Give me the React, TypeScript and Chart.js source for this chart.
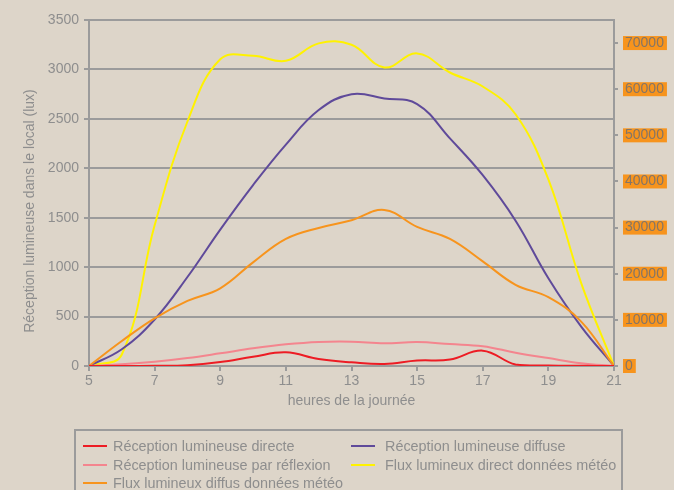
import React, { useEffect, useRef } from 'react';
import { Chart, registerables } from 'chart.js';

Chart.register(...registerables);

// ---- data ----
const hours = [5, 6, 7, 8, 9, 10, 11, 12, 13, 14, 15, 16, 17, 18, 19, 20, 21];
const directe = [0, 0, 2, 8, 40, 94, 138, 70, 37, 20, 55, 65, 155, 15, 5, 2, 0];
const reflexion = [0, 17, 43, 80, 128, 179, 219, 243, 246, 229, 243, 222, 200, 135, 80, 28, 0];
const diffusMeteo = [0, 5420, 10340, 14100, 16840, 22460, 27540, 29930, 31590, 33840, 30150, 27540, 22680, 17600, 14930, 9630, 0];
const diffuse = [0, 169, 470, 900, 1380, 1830, 2240, 2589, 2750, 2707, 2650, 2302, 1930, 1470, 887, 398, 0];
const directMeteo = [0, 2500, 30500, 53000, 66500, 67240, 66150, 69930, 69630, 64710, 67760, 63620, 60580, 54570, 40430, 17980, 0];

const seriesLabels = [
  'Réception lumineuse directe',
  'Réception lumineuse par réflexion',
  'Flux lumineux diffus données météo',
  'Réception lumineuse diffuse',
  'Flux lumineux direct données météo',
];
const seriesColors = ['#ed1c24', '#f4858e', '#f7941d', '#5f4a9a', '#fff200'];
const seriesAxis = ['y', 'y', 'y1', 'y', 'y1'];
const seriesValues = [directe, reflexion, diffusMeteo, diffuse, directMeteo];

const xTitle = 'heures de la journée';
const yTitle = 'Réception lumineuse dans le local (lux)';
const xTicks = [5, 7, 9, 11, 13, 15, 17, 19, 21];
const yTicks = [0, 500, 1000, 1500, 2000, 2500, 3000, 3500];
const y1Ticks = [0, 10000, 20000, 30000, 40000, 50000, 60000, 70000];
const xMin = 5, xMax = 21;
const yMin = 0, yMax = 3500;
const y1Min = 0, y1Max = 75000;

// ---- styles ----
const FONT = "'Liberation Sans', Arial, Helvetica, sans-serif";
const GRAY = '#8e8e8e';
const GRID = '#9b9b9b';
const BG = '#ddd5c9';
const FS = 14;

const yTitlePlugin = {
  id: 'yTitleCustom',
  afterDraw(chart: any) {
    const ctx = chart.ctx;
    const area = chart.chartArea;
    ctx.save();
    ctx.translate(30, (area.top + area.bottom) / 2 + 18);
    ctx.rotate(-Math.PI / 2);
    ctx.font = `${FS}px ${FONT}`;
    ctx.fillStyle = GRAY;
    ctx.textAlign = 'center';
    ctx.textBaseline = 'middle';
    ctx.fillText(yTitle, 0, 0);
    ctx.restore();
  },
};

const setTicks = (vals: number[]) => (s: any) => {
  s.ticks = vals.map((v) => ({ value: v }));
};
const plain = (v: any) => String(v);

export default function App() {
  const ref = useRef<HTMLCanvasElement | null>(null);

  useEffect(() => {
    document.body.style.margin = '0';
    document.body.style.background = BG;
    const canvas = ref.current;
    if (!canvas) return;
    const chart = new Chart(canvas, {
      type: 'line',
      data: {
        datasets: seriesValues.map((vals, i) => ({
          label: seriesLabels[i],
          data: hours.map((h, j) => ({ x: h, y: vals[j] })),
          borderColor: seriesColors[i],
          backgroundColor: seriesColors[i],
          borderWidth: 2,
          pointRadius: 0,
          tension: 0.4,
          fill: false,
          yAxisID: seriesAxis[i],
        })),
      },
      options: {
        animation: false,
        responsive: false,
        maintainAspectRatio: false,
        layout: { padding: { top: 20, bottom: 70, left: 0, right: 0 } },
        plugins: { legend: { display: false }, tooltip: { enabled: false }, title: { display: false } },
        scales: {
          x: {
            type: 'linear',
            min: xMin,
            max: xMax,
            afterBuildTicks: setTicks(xTicks),
            afterFit: (s: any) => { s.height = 54; },
            ticks: { callback: plain, color: GRAY, font: { family: FONT, size: FS }, padding: 2 },
            grid: { drawOnChartArea: false, drawTicks: true, tickLength: 5, color: GRID, lineWidth: 2 },
            border: { display: true, color: GRID, width: 2 },
            title: {
              display: true,
              text: xTitle,
              color: GRAY,
              font: { family: FONT, size: FS },
              padding: { top: 10, bottom: 10 },
            },
          },
          y: {
            type: 'linear',
            position: 'left',
            min: yMin,
            max: yMax,
            afterBuildTicks: setTicks(yTicks),
            afterFit: (s: any) => { s.width = 89; },
            ticks: { callback: plain, color: GRAY, font: { family: FONT, size: FS }, padding: 5 },
            grid: { color: GRID, lineWidth: 2, tickLength: 5 },
            border: { display: true, color: GRID, width: 2 },
          },
          y1: {
            type: 'linear',
            position: 'right',
            min: y1Min,
            max: y1Max,
            afterBuildTicks: setTicks(y1Ticks),
            afterFit: (s: any) => { s.width = 60; },
            ticks: {
              callback: plain,
              color: '#857565',
              font: { family: FONT, size: FS, lineHeight: 1 },
              padding: 7,
              showLabelBackdrop: true,
              backdropColor: '#f7941d',
              backdropPadding: { top: 0, bottom: 0, left: 2, right: 3 },
            },
            grid: { drawOnChartArea: false, tickLength: 4, color: GRID, lineWidth: 2 },
            border: { display: true, color: GRID, width: 2 },
          },
        },
      } as any,
      plugins: [yTitlePlugin],
    });
    return () => chart.destroy();
  }, []);

  const legendOrder = [
    [0, 0, 0], // index, col, row
    [1, 0, 1],
    [2, 0, 2],
    [3, 1, 0],
    [4, 1, 1],
  ];
  const colSwatch = [83, 351];
  const colText = [113, 385];
  const rowY = [446, 464.5, 483];

  return (
    <div style={{ position: 'relative', width: 674, height: 490, background: BG, overflow: 'hidden', fontFamily: FONT }}>
      <canvas ref={ref} width={674} height={490} style={{ position: 'absolute', left: 0, top: 0, width: 674, height: 490 }} />
      <div
        style={{
          position: 'absolute',
          left: 74,
          top: 429,
          width: 549,
          height: 90,
          border: `2px solid ${GRID}`,
          boxSizing: 'border-box',
        }}
      />
      {legendOrder.map(([i, c, r]) => (
        <React.Fragment key={i}>
          <div
            style={{
              position: 'absolute',
              left: colSwatch[c],
              top: rowY[r] - 1,
              width: 24,
              height: 2,
              background: seriesColors[i],
            }}
          />
          <div
            style={{
              position: 'absolute',
              left: colText[c],
              top: rowY[r] - 9,
              height: 18,
              lineHeight: '18px',
              fontSize: 14.4,
              color: GRAY,
              whiteSpace: 'nowrap',
            }}
          >
            {seriesLabels[i]}
          </div>
        </React.Fragment>
      ))}
    </div>
  );
}
